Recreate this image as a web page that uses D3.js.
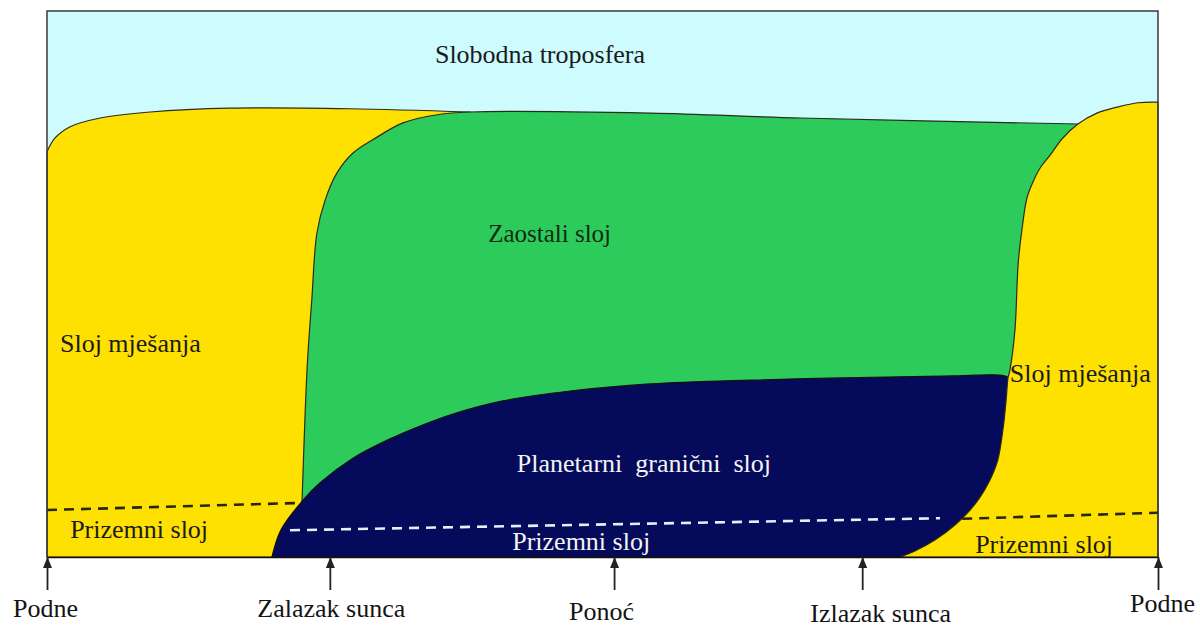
<!DOCTYPE html>
<html>
<head>
<meta charset="utf-8">
<script src="https://cdn.jsdelivr.net/npm/d3@7"></script>
<style>
  body { margin: 0; background: #fff; }
</style>
</head>
<body>
<svg id="chart" width="1200" height="627"></svg>
<script>
// x = hours after noon, y = relative height of the layer (0-100)
var tickHours = [0, 6.11, 12.25, 17.61, 24];
var tickLabels = ["Podne", "Zalazak sunca", "Ponoć", "Izlazak sunca", "Podne"];

// top of the daytime mixed layer (first afternoon)
var mixedDayTop = [[0, 74.2], [0.17, 76.7], [0.5, 78.8], [1.15, 80.4], [2.23, 81.5],
  [3.95, 82.2], [6.55, 82.1], [9.14, 81.5]];

// residual layer: left edge (after sunset) and top
var residualEdge = [[5.47, 0], [5.51, 10.4], [5.62, 34.8], [5.72, 47.1], [5.83, 59.3],
  [6.01, 65.4], [6.26, 70.3], [6.61, 74.0], [7.13, 76.9], [7.69, 79.5], [8.43, 81.0], [9.14, 81.5]];
var residualTop = [[13.03, 81.3], [16.27, 80.4], [22.27, 79.3]];

// stable (nocturnal) boundary layer: top and right edge
var stableTop = [[4.86, 0], [5.05, 4.9], [5.53, 10.4], [5.90, 13.6],
  [6.61, 18.1], [7.35, 21.4], [8.06, 24.0], [8.77, 26.2], [9.85, 28.6], [11.30, 30.4],
  [13.03, 31.7], [15.19, 32.4], [18.43, 33.0], [19.72, 33.2], [20.59, 33.3], [20.76, 32.8]];
var stableRight = [[20.72, 28.8], [20.65, 23.3], [20.54, 17.8], [20.37, 14.1],
  [20.16, 11.0], [19.94, 8.6], [19.62, 5.9], [19.18, 3.1], [18.75, 1.1], [18.43, 0]];

// next day's mixed layer: left edge and top
var mixedNextEdge = [[20.80, 34.2], [20.91, 41.6], [20.98, 53.8], [21.06, 59.9],
  [21.17, 65.8], [21.30, 68.7], [21.45, 71.2], [21.67, 73.6], [21.93, 76.6], [22.27, 79.3]];
var mixedNextTop = [[22.68, 81.3], [23.12, 82.4], [23.57, 83.2], [24, 83.3]];

// surface layer tops (dashed)
var surfaceDay = [[0, 8.6], [5.47, 9.9]];
var surfaceNight = [[5.25, 4.9], [19.29, 7.1]];
var surfaceNext = [[19.77, 7.0], [24, 8.1]];

// labels: [text, hour, height, colour]
var layerLabels = [
  ["Slobodna troposfera", 8.38, 90.5, "#1a1a1a"],
  ["Zaostali sloj", 9.53, 57.7, "#102a14"],
  ["Sloj mješanja", 0.28, 37.5, "#1a1a1a"],
  ["Sloj mješanja", 20.80, 32.1, "#1a1a1a"],
  ["Planetarni  granični  sloj", 10.15, 15.6, "#f4f4f4"],
  ["Prizemni sloj", 0.5, 3.5, "#1a1a1a"],
  ["Prizemni sloj", 10.05, 1.3, "#f4f4f4"],
  ["Prizemni sloj", 20.05, 0.7, "#1a1a1a"]
];

var serif = "'Liberation Serif', 'Times New Roman', serif";

var svg = d3.select("#chart");
var x = d3.scaleLinear().domain([0, 24]).range([47, 1158]);
var y = d3.scaleLinear().domain([0, 100]).range([557, 11]);

var curve = d3.line()
  .x(function (d) { return x(d[0]); })
  .y(function (d) { return y(d[1]); })
  .curve(d3.curveCatmullRom.alpha(0.5));
var straight = d3.line()
  .x(function (d) { return x(d[0]); })
  .y(function (d) { return y(d[1]); });

function join(a, b) { return a + b.replace(/^M/, "L"); }

// free troposphere background
svg.append("rect")
  .attr("x", x(0)).attr("y", y(100))
  .attr("width", x(24) - x(0)).attr("height", y(0) - y(100))
  .attr("fill", "#cdfbfe");

var outline = "#2b2b1e";

// mixed layer, first day
svg.append("path")
  .attr("d", join(join(straight([[0, 0]]), curve(mixedDayTop)), straight([[9.14, 0]])) + "Z")
  .attr("fill", "#fee100")
  .attr("stroke", outline).attr("stroke-width", 1.2);

// residual layer
svg.append("path")
  .attr("d", join(curve(residualEdge.concat(residualTop)), straight([[22.27, 0]])) + "Z")
  .attr("fill", "#2dcb5b")
  .attr("stroke", outline).attr("stroke-width", 1.2);

// stable boundary layer
svg.append("path")
  .attr("d", curve(stableTop.concat(stableRight)) + "Z")
  .attr("fill", "#050b5a")
  .attr("stroke", "#111").attr("stroke-width", 1.2);

// mixed layer, next day
var nextOutline = stableRight.slice().reverse()
  .concat([[20.76, 32.8]], mixedNextEdge, mixedNextTop);
svg.append("path")
  .attr("d", join(curve(nextOutline), straight([[24, 0]])) + "Z")
  .attr("fill", "#fee100")
  .attr("stroke", outline).attr("stroke-width", 1.2);

// surface layer dashes
[[surfaceDay, "#2a2410"], [surfaceNext, "#2a2410"], [surfaceNight, "#e8eef8"]].forEach(function (s) {
  svg.append("path")
    .attr("d", straight(s[0]))
    .attr("fill", "none")
    .attr("stroke", s[1])
    .attr("stroke-width", 2.6)
    .attr("stroke-dasharray", "10,7");
});

// frame
svg.append("path")
  .attr("d", "M" + x(0) + "," + y(0) + "V" + y(100) + "H" + x(24) + "V" + y(0))
  .attr("fill", "none")
  .attr("stroke", "#3a3a3a")
  .attr("stroke-width", 1.5);

// time axis with arrows
var labelDx = [-2, 1, -13, 18, 4];
var labelY = [60, 60, 63, 65, 55];
var gx = svg.append("g")
  .attr("transform", "translate(0," + y(0) + ")")
  .call(d3.axisBottom(x)
    .tickValues(tickHours)
    .tickFormat(function (d, i) { return tickLabels[i]; })
    .tickSize(33)
    .tickSizeOuter(0));
gx.select(".domain").attr("stroke", "#111").attr("stroke-width", 1.6);
gx.selectAll(".tick line").attr("stroke", "#222").attr("stroke-width", 1.8);
gx.selectAll(".tick").append("path")
  .attr("d", "M-4.5,11L0,0L4.5,11Z")
  .attr("fill", "#222");
gx.selectAll(".tick text")
  .attr("font-family", serif)
  .attr("font-size", 26)
  .attr("fill", "#141414")
  .attr("dy", 0)
  .attr("y", function (d, i) { return labelY[i]; })
  .attr("dx", function (d, i) { return labelDx[i]; });

// layer names
svg.selectAll("text.layer")
  .data(layerLabels)
  .enter()
  .append("text")
  .attr("class", "layer")
  .attr("x", function (d) { return x(d[1]); })
  .attr("y", function (d) { return y(d[2]); })
  .attr("font-family", serif)
  .attr("font-size", function (d) { return d[0].indexOf("Zaostali") === 0 ? 25 : 26; })
  .attr("fill", function (d) { return d[3]; })
  .style("white-space", "pre")
  .text(function (d) { return d[0]; });
</script>
</body>
</html>
